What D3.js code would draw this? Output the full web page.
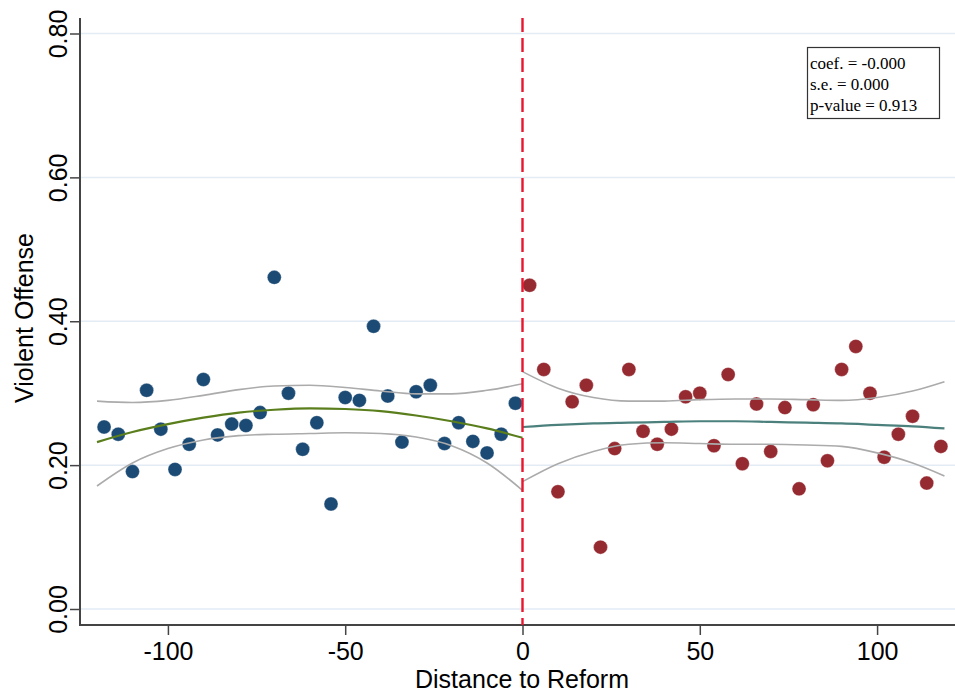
<!DOCTYPE html>
<html>
<head>
<meta charset="utf-8">
<script src="https://cdn.jsdelivr.net/npm/d3@7"></script>
<style>
  body { margin: 0; background: #fff; }
  svg { display: block; font-family: "Liberation Sans", Arial, Helvetica, sans-serif; }
</style>
</head>
<body>
<div id="chart"></div>
<script>
// Binned means before the reform (distance -118 .. -2)
var preX = [-118, -114, -110, -106, -102, -98, -94, -90, -86, -82, -78, -74, -70, -66, -62,
            -58, -54, -50, -46, -42, -38, -34, -30, -26, -22, -18, -14, -10, -6, -2];
var preY = [0.253, 0.243, 0.191, 0.304, 0.250, 0.194, 0.229, 0.319, 0.242, 0.257, 0.255, 0.273, 0.461, 0.300, 0.222,
            0.259, 0.146, 0.294, 0.290, 0.393, 0.296, 0.232, 0.302, 0.311, 0.230, 0.259, 0.233, 0.217, 0.243, 0.286];

// Binned means after the reform (distance 2 .. 118)
var postX = [2, 6, 10, 14, 18, 22, 26, 30, 34, 38, 42, 46, 50, 54, 58,
             62, 66, 70, 74, 78, 82, 86, 90, 94, 98, 102, 106, 110, 114, 118];
var postY = [0.450, 0.333, 0.163, 0.288, 0.311, 0.086, 0.223, 0.333, 0.247, 0.229, 0.250, 0.295, 0.300, 0.227, 0.326,
             0.202, 0.285, 0.219, 0.280, 0.167, 0.284, 0.206, 0.333, 0.365, 0.300, 0.211, 0.243, 0.268, 0.175, 0.226];

// Fitted curve and confidence band, left side
var fitPreX = [-120, -110, -100, -90, -80, -70, -60, -50, -40, -30, -20, -10, 0];
var fitPreY = [0.232, 0.246, 0.257, 0.266, 0.273, 0.277, 0.279, 0.278, 0.275, 0.269, 0.261, 0.251, 0.238];
var ciPreHi = [0.289, 0.287, 0.290, 0.297, 0.305, 0.310, 0.311, 0.308, 0.303, 0.299, 0.299, 0.304, 0.313];
var ciPreLo = [0.171, 0.203, 0.223, 0.235, 0.241, 0.243, 0.244, 0.245, 0.244, 0.239, 0.227, 0.203, 0.165];

// Fitted curve and confidence band, right side
var fitPostX = [0, 10, 20, 30, 40, 50, 60, 70, 80, 90, 100, 110, 119];
var fitPostY = [0.253, 0.256, 0.258, 0.259, 0.260, 0.261, 0.261, 0.260, 0.259, 0.258, 0.256, 0.254, 0.251];
var ciPostHi = [0.330, 0.307, 0.294, 0.289, 0.289, 0.291, 0.292, 0.292, 0.291, 0.290, 0.294, 0.303, 0.316];
var ciPostLo = [0.177, 0.202, 0.219, 0.229, 0.231, 0.230, 0.229, 0.229, 0.228, 0.226, 0.217, 0.203, 0.185];

var xTicks = [-100, -50, 0, 50, 100];
var yTicks = [0, 0.2, 0.4, 0.6, 0.8];
var statLines = ["coef. = -0.000", "s.e. = 0.000", "p-value = 0.913"];

var width = 955;
var height = 696;
var plot = { left: 80, right: 955, top: 18, bottom: 625 };

var svg = d3.select("#chart")
    .append("svg")
    .attr("width", width)
    .attr("height", height);

// Scales
var x = d3.scaleLinear()
    .domain([-120, 120])
    .range([97, 948]);

var y = d3.scaleLinear()
    .domain([0, 0.8])
    .range([609, 33.5]);

// Horizontal grid lines
svg.append("g")
    .selectAll("line")
    .data(yTicks)
    .enter()
    .append("line")
    .attr("x1", plot.left)
    .attr("x2", plot.right)
    .attr("y1", d => y(d))
    .attr("y2", d => y(d))
    .attr("stroke", "#e3ebf4")
    .attr("stroke-width", 1.5);

// Scatter points
function zip(xs, ys) {
    return xs.map((d, i) => [d, ys[i]]);
}

svg.append("g")
    .selectAll("circle")
    .data(zip(preX, preY))
    .enter()
    .append("circle")
    .attr("cx", d => x(d[0]))
    .attr("cy", d => y(d[1]))
    .attr("r", 7)
    .attr("fill", "#1b4a74")
    .attr("stroke", "#ffffff")
    .attr("stroke-opacity", 0.5)
    .attr("stroke-width", 0.6);

svg.append("g")
    .selectAll("circle")
    .data(zip(postX, postY))
    .enter()
    .append("circle")
    .attr("cx", d => x(d[0]))
    .attr("cy", d => y(d[1]))
    .attr("r", 7)
    .attr("fill", "#952a31")
    .attr("stroke", "#ffffff")
    .attr("stroke-opacity", 0.5)
    .attr("stroke-width", 0.6);

// Fit lines and confidence bands
var line = d3.line()
    .x(d => x(d[0]))
    .y(d => y(d[1]))
    .curve(d3.curveMonotoneX);

var curves = [
    { pts: zip(fitPreX, ciPreHi), color: "#ababab", w: 1.6 },
    { pts: zip(fitPreX, ciPreLo), color: "#ababab", w: 1.6 },
    { pts: zip(fitPostX, ciPostHi), color: "#ababab", w: 1.6 },
    { pts: zip(fitPostX, ciPostLo), color: "#ababab", w: 1.6 },
    { pts: zip(fitPreX, fitPreY), color: "#5a7e1c", w: 2.2 },
    { pts: zip(fitPostX, fitPostY), color: "#4b807c", w: 2.2 }
];

svg.append("g")
    .selectAll("path")
    .data(curves)
    .enter()
    .append("path")
    .attr("d", d => line(d.pts))
    .attr("fill", "none")
    .attr("stroke", d => d.color)
    .attr("stroke-width", d => d.w);

// Axes (plain hyphen for negatives, as in the original)
var xAxis = svg.append("g")
    .attr("transform", "translate(0," + plot.bottom + ")")
    .call(d3.axisBottom(x).tickValues(xTicks).tickSize(10).tickSizeOuter(0).tickFormat(d => String(d)));
xAxis.select(".domain").remove();
xAxis.selectAll("line").attr("stroke", "#444").attr("stroke-width", 1.5);
xAxis.selectAll("text")
    .attr("y", 35)
    .attr("dy", null)
    .attr("fill", "#000")
    .style("font-size", "25px")
    .style("font-family", "'Liberation Sans', Arial, sans-serif");

var yAxis = svg.append("g")
    .attr("transform", "translate(" + plot.left + ",0)")
    .call(d3.axisLeft(y).tickValues(yTicks).tickSize(10).tickSizeOuter(0).tickFormat(d3.format(".2f")));
yAxis.select(".domain").remove();
yAxis.selectAll("line").attr("stroke", "#444").attr("stroke-width", 1.5);
yAxis.selectAll("text")
    .attr("x", null)
    .attr("dy", null)
    .attr("transform", "translate(-13,0) rotate(-90)")
    .attr("text-anchor", "middle")
    .attr("fill", "#000")
    .style("font-size", "25px")
    .style("font-family", "'Liberation Sans', Arial, sans-serif");

// Axis lines
svg.append("line")
    .attr("x1", plot.left).attr("x2", plot.left)
    .attr("y1", plot.top).attr("y2", plot.bottom + 1)
    .attr("stroke", "#444").attr("stroke-width", 2);
svg.append("line")
    .attr("x1", plot.left - 1).attr("x2", plot.right)
    .attr("y1", plot.bottom).attr("y2", plot.bottom)
    .attr("stroke", "#444").attr("stroke-width", 2);

// Reform cut-off
svg.append("line")
    .attr("x1", x(0)).attr("x2", x(0))
    .attr("y1", plot.top).attr("y2", plot.bottom)
    .attr("stroke", "#e8162e")
    .attr("stroke-width", 2.4)
    .attr("stroke-dasharray", "14,6");

// Axis titles
svg.append("text")
    .attr("x", 522)
    .attr("y", 688)
    .attr("text-anchor", "middle")
    .style("font-size", "25px")
    .text("Distance to Reform");

svg.append("text")
    .attr("transform", "translate(33,318) rotate(-90)")
    .attr("text-anchor", "middle")
    .style("font-size", "25px")
    .text("Violent Offense");

// Stats box
svg.append("rect")
    .attr("x", 807.5)
    .attr("y", 47.5)
    .attr("width", 132)
    .attr("height", 71)
    .attr("fill", "#fff")
    .attr("stroke", "#333")
    .attr("stroke-width", 1.2);

svg.append("g")
    .selectAll("text")
    .data(statLines)
    .enter()
    .append("text")
    .attr("x", 810)
    .attr("y", (d, i) => 69 + i * 21)
    .style("font-family", "'Liberation Serif', 'Times New Roman', serif")
    .style("font-size", "17px")
    .text(d => d);
</script>
</body>
</html>
